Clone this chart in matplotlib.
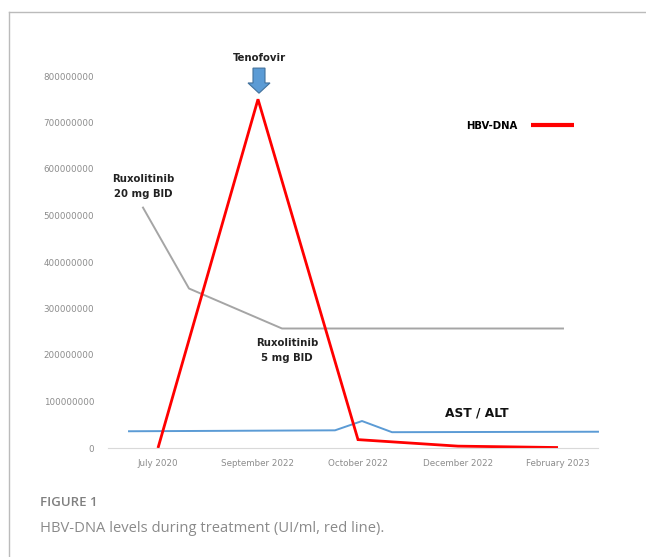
import matplotlib
matplotlib.use("Agg")
import matplotlib.pyplot as plt
from matplotlib.lines import Line2D
from matplotlib.patches import FancyArrow

# categories on the x axis
months = ["July 2020", "September 2022", "October 2022", "December 2022", "February 2023"]

# HBV-DNA (UI/ml), red line
hbv_x = [0, 1, 2, 3, 4]
hbv_dna = [0, 750e6, 18e6, 4e6, 1e6]

# ruxolitinib dose trend (grey line, drawn as a guide)
rux_x = [-0.15, 0.31, 1.24, 4.05]
rux_y = [517e6, 343e6, 257e6, 257e6]

# AST / ALT trend (blue line)
ast_x = [-0.29, 1.77, 2.04, 2.34, 4.4]
ast_y = [36e6, 38e6, 58e6, 34e6, 35e6]

yticks = list(range(0, 900000000, 100000000))

fig = plt.figure(figsize=(6.46, 5.57), dpi=100)
ax = fig.add_axes([108/646, 1 - 448/557, 490/646, 372/557])

ax.plot(rux_x, rux_y, color="#a5a5a5", lw=1.4, clip_on=False)
ax.plot(ast_x, ast_y, color="#5b9bd5", lw=1.4, clip_on=False)
hbv_line, = ax.plot(hbv_x, hbv_dna, color="#ff0000", lw=2.0, clip_on=False,
                    solid_capstyle="butt", solid_joinstyle="miter")

ax.set_xlim(-0.5, 4.4)
ax.set_ylim(0, 800e6)
ax.set_xticks(range(len(months)))
ax.set_xticklabels(months)
ax.set_yticks(yticks)
ax.set_yticklabels([str(v) for v in yticks])
ax.tick_params(axis="both", length=0, labelsize=6.3, labelcolor="#8c8c8c")
ax.tick_params(axis="x", pad=8)
ax.tick_params(axis="y", pad=10)
for side in ["top", "right", "left"]:
    ax.spines[side].set_visible(False)
ax.spines["bottom"].set_color("#d9d9d9")
ax.spines["bottom"].set_linewidth(0.8)

# annotations
ax.text(1.02, 839e6, "Tenofovir", ha="center", va="center", fontsize=7.3,
        fontweight="bold", color="#222222", clip_on=False)
ax.add_patch(FancyArrow(1.01, 817e6, 0, -54e6, width=0.12, head_width=0.22,
                        head_length=22e6, length_includes_head=True,
                        facecolor="#5b9bd5", edgecolor="#41719c", lw=0.8,
                        clip_on=False))
ax.text(-0.15, 563e6, "Ruxolitinib\n20 mg BID", ha="center", va="center",
        fontsize=7.3, fontweight="bold", color="#222222", linespacing=1.6)
ax.text(1.29, 209e6, "Ruxolitinib\n5 mg BID", ha="center", va="center",
        fontsize=7.3, fontweight="bold", color="#222222", linespacing=1.6)
ax.text(3.19, 75e6, "AST / ALT", ha="center", va="center",
        fontsize=8.8, fontweight="bold", color="#111111")

leg = ax.legend([hbv_line], ["HBV-DNA"], loc="center", markerfirst=False,
                frameon=False, handlelength=4.2, handletextpad=1.4,
                prop={"weight": "bold", "size": 7.3},
                bbox_to_anchor=(520/646, 1 - 126/557),
                bbox_transform=fig.transFigure)
leg.get_lines()[0].set_linewidth(3)

# figure frame and caption
fig.add_artist(Line2D([9/646, 1], [1 - 12/557, 1 - 12/557], color="#bbbbbb", lw=1))
fig.add_artist(Line2D([9/646, 9/646], [0, 1 - 12/557], color="#bbbbbb", lw=1))
fig.text(40/646, 1 - 503/557, "FIGURE 1", fontsize=9.5, color="#808080",
         family="Open Sans", va="center", ha="left", fontweight="semibold")
fig.text(40/646, 1 - 528/557, "HBV-DNA levels during treatment (UI/ml, red line).",
         fontsize=10.6, color="#8a8a8a", family="Open Sans", va="center", ha="left")

fig.savefig("out.png", dpi=100)
